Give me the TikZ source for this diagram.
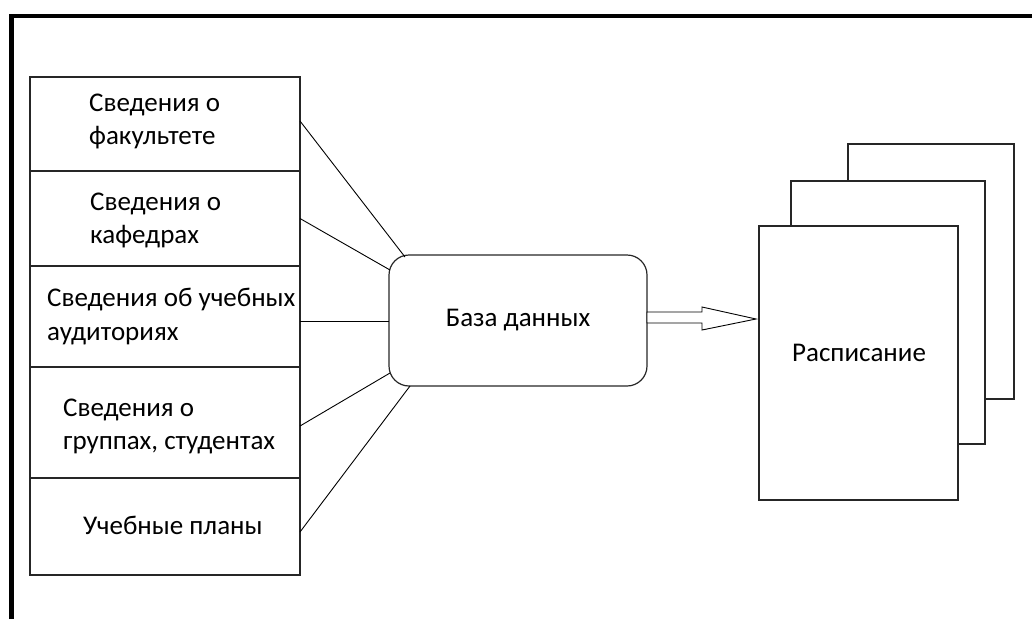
\documentclass[tikz,border=0pt]{standalone}
\usepackage{fontspec}
\setmainfont{Carlito}
\usetikzlibrary{calc}
\tikzset{
  line/.style={draw=black!85, line width=1.2pt},
  srcbox/.style={line, rectangle, minimum width=270pt, inner sep=0pt, outer sep=0pt},
  lbl/.style={font=\fontsize{27}{33.5}\selectfont, align=left, inner sep=0pt, anchor=west},
  conn/.style={draw=black, line width=0.9pt},
  doc/.style={line, fill=white, rectangle, inner sep=0pt, outer sep=0pt},
}
\begin{document}
\begin{tikzpicture}[x=1pt,y=-1pt]
\useasboundingbox (0,0) rectangle (1032,619);
% frame
\draw[line width=4.5pt, line join=miter] (11.5,619) -- (11.5,16) -- (1032,16);
% source boxes
\node[srcbox, minimum height=94pt]  (b1) at (165,124) {};
\node[srcbox, minimum height=95pt]  (b2) at (165,218.5) {};
\node[srcbox, minimum height=101pt] (b3) at (165,316.5) {};
\node[srcbox, minimum height=111pt] (b4) at (165,422.5) {};
\node[srcbox, minimum height=97pt]  (b5) at (165,526.5) {};
\node[lbl] (t1) at (89,121.5) {Сведения о\\факультете};
\node[lbl] (t2) at (90,220.5) {Сведения о\\кафедрах};
\node[lbl] (t3) at (47,316.5) {Сведения об учебных\\аудиториях};
\node[lbl] (t4) at (63,426.5) {Сведения о\\группах, студентах};
\node[lbl] (t5) at (83,525) {Учебные планы};
% database
\node[line, rectangle, rounded corners=20pt, minimum width=258pt, minimum height=131pt,
      inner sep=0pt, outer sep=0pt, font=\fontsize{27}{33}\selectfont] (db) at (518,320.5) {База данных};
% connectors
\draw[conn] ([yshift=3pt]b1.east) -- ($(db.north west)+(16,2)$);
\draw[conn] (b2.east) -- ($(db.north west)+(1,15)$);
\draw[conn] ([yshift=-5pt]b3.east) coordinate (c3s) -- (c3s -| db.west);
\draw[conn] ([yshift=-3.5pt]b4.east) -- ($(db.south west)+(1,-13)$);
\draw[conn] ([yshift=-5.5pt]b5.east) -- ($(db.south west)+(21,0)$);
% documents
\node[doc, minimum width=166pt, minimum height=255pt] (d3) at (931,271.5) {};
\node[doc, minimum width=194pt, minimum height=263pt] (d2) at (888,312.5) {};
\node[doc, minimum width=199pt, minimum height=274pt] (d1) at (858.5,363) {};
\node[font=\fontsize{27}{33}\selectfont, inner sep=0pt] (dl) at (859,353) {Расписание};
% hollow arrow
\coordinate (tip) at (756,319);
\draw[conn, fill=white, line join=miter]
  ($(db.east)+(0,-8.5)$) -- ($(db.east)+(55,-8.5)$) -- ($(db.east)+(55,-13.5)$)
  -- (tip) -- ($(db.east)+(55,9.5)$) -- ($(db.east)+(55,2.5)$) -- ($(db.east)+(0,2.5)$) -- cycle;
\end{tikzpicture}
\end{document}
